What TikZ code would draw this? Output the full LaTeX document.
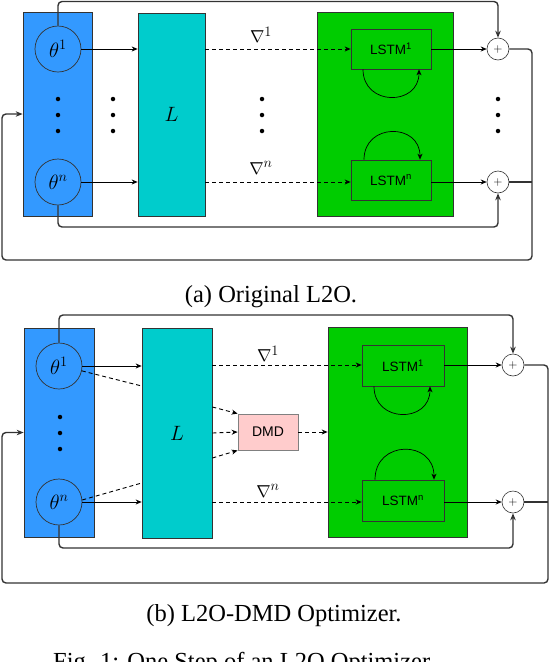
\documentclass[tikz,border=0pt]{standalone}
\usepackage{fontspec}
\setmainfont{Liberation Serif}
\newfontfamily\sansf{Liberation Sans}
\usetikzlibrary{arrows.meta,calc}
\definecolor{blueF}{RGB}{51,153,255}
\definecolor{tealF}{RGB}{0,204,204}
\definecolor{greenF}{RGB}{0,204,0}
\definecolor{pinkF}{RGB}{255,204,204}
\definecolor{lineC}{RGB}{51,51,51}
\begin{document}
\begin{tikzpicture}[x=1pt,y=-1pt,
  box/.style={draw=lineC, line width=0.7pt, inner sep=0pt},
  bluebox/.style={box, fill=blueF},
  lbox/.style={box, fill=tealF, font=\fontsize{19.5}{20}\selectfont},
  gbox/.style={box, fill=greenF},
  lstm/.style={box, fill=greenF, minimum width=80pt, minimum height=40pt, font=\sansf\fontsize{13.5}{14}\selectfont},
  dmdbox/.style={draw=black!50, line width=0.8pt, fill=pinkF, inner sep=0pt, minimum width=60pt, minimum height=36pt, font=\sansf\fontsize{14}{14}\selectfont},
  par/.style={circle, draw=lineC, line width=0.7pt, minimum size=46pt, inner sep=0pt, font=\fontsize{21}{21}\selectfont},
  plus/.style={circle, draw=lineC, line width=0.6pt, fill=white, minimum size=22pt, inner sep=0pt, font=\fontsize{13}{13}\selectfont},
  dot/.style={circle, fill=black, inner sep=0pt, minimum size=4.5pt},
  grad/.style={inner sep=0pt, font=\fontsize{19}{19}\selectfont},
  arr/.style={-{Stealth[length=6pt,width=5pt]}, line width=0.7pt, draw=black},
  dln/.style={dash pattern=on 4pt off 3pt, line width=0.9pt, draw=black},
  darr/.style={dln, -{Stealth[length=6pt,width=5pt]}},
  fb/.style={line width=1.4pt, draw=lineC, rounded corners=4pt},
  fbarr/.style={fb, -{Stealth[length=7pt,width=5.5pt]}},
  captext/.style={inner sep=0pt, font=\fontsize{24.5}{26}\selectfont}]
\useasboundingbox (0,0) rectangle (550,662);

% ---------------- (a) ----------------
\node[bluebox, minimum width=69pt, minimum height=204pt] (A) at (57.5,114) {};
\node[lbox, minimum width=67pt, minimum height=203pt] (AL) at (171.5,114.5) {$L$};
\node[gbox, minimum width=136pt, minimum height=204pt] (AG) at (385,114) {};
\node[par] (at1) at (58,49) {$\theta^1$};
\node[par] (atn) at (58,182) {$\theta^n$};
\node[lstm] (al1) at (391,49) {LSTM\textsuperscript{1}};
\node[lstm] (aln) at (391,180) {LSTM\textsuperscript{n}};
\node[plus] (ap1) at (498,49) {$+$};
\node[plus] (apn) at (498,182) {$+$};
\node[grad] (ag1) at (261,35) {$\nabla^1$};
\node[grad] (agn) at (261,168) {$\nabla^n$};
\foreach \y [count=\i] in {99,115,131} {
  \node[dot] (ada\i) at (58,\y) {};
  \node[dot] (adb\i) at (113,\y) {};
  \node[dot] (adc\i) at (262,\y) {};
  \node[dot] (add\i) at (498,\y) {};
}
\draw[arr] (at1.east) -- (at1.east -| AL.west);
\draw[arr] (atn.east) -- (atn.east -| AL.west);
\draw[darr] (AL.east |- al1.west) -- (al1.west);
\draw[darr] (AL.east |- apn.west) -- (apn.west -| aln.west);
\draw[arr] (al1.east) -- (ap1.west);
\draw[arr] (apn.west -| aln.east) -- (apn.west);
\draw[arr] ([xshift=-28pt]al1.south) .. controls +(0,37) and +(0,37) .. ([xshift=28pt]al1.south);
\draw[arr] ([xshift=-27pt]aln.north) .. controls +(0,-37) and +(0,-37) .. ([xshift=29pt]aln.north);
\coordinate (atop) at (498,1.5);
\coordinate (abot) at (498,227);
\coordinate (arc1) at (532,260);
\coordinate (arc2) at (2,260);
\draw[fbarr] (at1.north) |- (atop) -- (ap1.north);
\draw[fbarr] (atn.south) |- (abot) -- (apn.south);
\draw[fbarr] (ap1.east) -| (arc1) -- (arc2) |- (A.west);
\draw[fb] (apn.east) -- (apn.east -| arc1);
\node[captext, anchor=base] (capa) at (271,302) {(a) Original L2O.};

% ---------------- (b) ----------------
\node[bluebox, minimum width=70pt, minimum height=209pt] (B) at (59,432.5) {};
\node[lbox, minimum width=70pt, minimum height=210pt] (BL) at (177,433) {$L$};
\node[gbox, minimum width=139pt, minimum height=210pt] (BG) at (397.5,432) {};
\node[dmdbox] (dmd) at (268,432) {DMD};
\node[par] (bt1) at (59,366) {$\theta^1$};
\node[par] (btn) at (59,502) {$\theta^n$};
\node[lstm, minimum width=82pt, minimum height=41pt] (bl1) at (403,365.5) {LSTM\textsuperscript{1}};
\node[lstm, minimum width=82pt, minimum height=41pt] (bln) at (403,500.5) {LSTM\textsuperscript{n}};
\node[plus] (bp1) at (513,365) {$+$};
\node[plus] (bpn) at (513,502) {$+$};
\node[grad] (bg1) at (268,354) {$\nabla^1$};
\node[grad] (bgn) at (268,491) {$\nabla^n$};
\foreach \y [count=\i] in {417,433,449} {
  \node[dot] (bda\i) at (60,\y) {};
}
\draw[arr] (bt1.east) -- (bt1.east -| BL.west);
\draw[arr] (btn.east) -- (btn.east -| BL.west);
\coordinate (bq1) at ($(BL.west)+(0,-47)$);
\coordinate (bqn) at ($(BL.west)+(0,50)$);
\draw[dln] (bt1.-12) -- (bq1);
\draw[dln] (btn.5) -- (bqn);
\draw[darr] ($(BL.east)+(0,-26)$) -- (dmd.north west);
\draw[darr] (BL.east) -- (dmd.west);
\draw[darr] ($(BL.east)+(0,25)$) -- (dmd.south west);
\draw[darr] (dmd.east) -- (dmd.east -| BG.west);
\draw[darr] (BL.east |- bp1.west) -- (bp1.west -| bl1.west);
\draw[darr] (BL.east |- bpn.west) -- (bpn.west -| bln.west);
\draw[arr] (bp1.west -| bl1.east) -- (bp1.west);
\draw[arr] (bpn.west -| bln.east) -- (bpn.west);
\draw[arr] ([xshift=-29pt]bl1.south) .. controls +(0,37) and +(0,37) .. ([xshift=27pt]bl1.south);
\draw[arr] ([xshift=-28pt]bln.north) .. controls +(0,-40) and +(0,-40) .. ([xshift=31pt]bln.north);
\coordinate (btop) at (513,315);
\coordinate (bbot) at (513,548);
\coordinate (brc1) at (548,583);
\coordinate (brc2) at (2,583);
\draw[fbarr] (bt1.north) |- (btop) -- (bp1.north);
\draw[fbarr] (btn.south) |- (bbot) -- (bpn.south);
\draw[fbarr] (bp1.east) -| (brc1) -- (brc2) |- (B.west);
\draw[fb] (bpn.east) -- (bpn.east -| brc1);
\node[captext, anchor=base] (capb) at (274,621) {(b) L2O-DMD Optimizer.};
\node[captext, anchor=base west] (capf) at (53,669.5) {Fig. 1: One Step of an L2O Optimizer.};
\end{tikzpicture}
\end{document}
